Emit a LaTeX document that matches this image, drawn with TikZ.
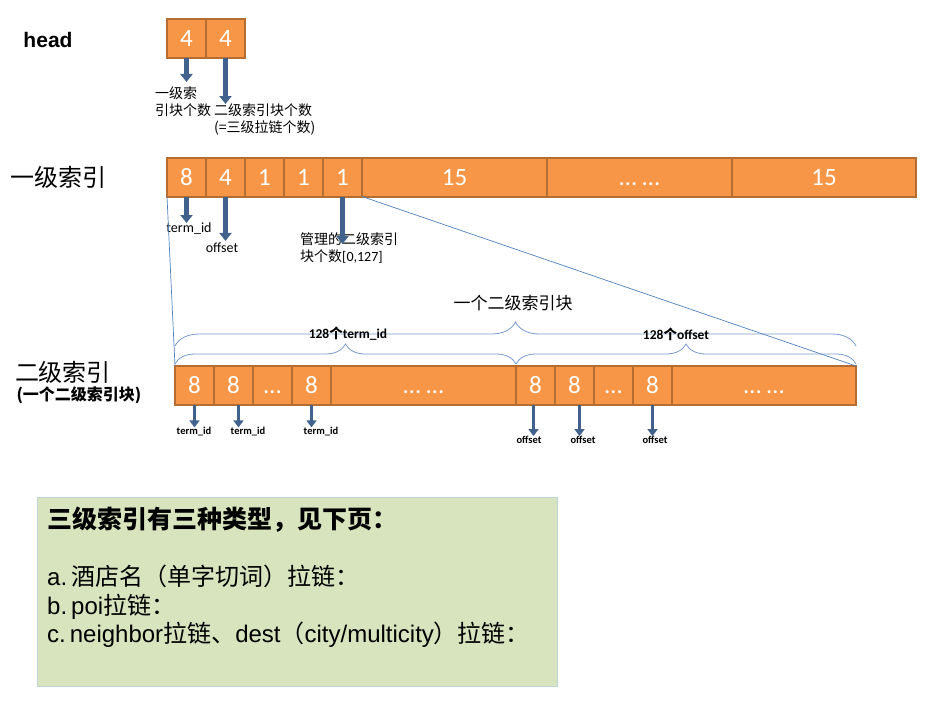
\documentclass[tikz,border=0pt]{standalone}
\usepackage{fontspec}
\setmainfont{Carlito}
\newfontfamily\cjk{Noto Sans CJK SC}
\newfontfamily\arial{Liberation Sans}
\usepackage{tikz}
\usetikzlibrary{arrows.meta, positioning, decorations.pathreplacing}

\definecolor{cellfill}{RGB}{247,150,70}
\definecolor{cellborder}{RGB}{182,109,49}
\definecolor{arrowblue}{RGB}{65,98,140}
\definecolor{projblue}{RGB}{79,129,189}
\definecolor{braceblue}{RGB}{120,155,205}
\definecolor{boxfill}{RGB}{215,228,189}
\definecolor{boxborder}{RGB}{190,210,215}

\begin{document}
\begin{tikzpicture}[x=1pt, y=-1pt, node distance=0pt,
    cell/.style={draw=cellborder, fill=cellfill, line width=2pt, text=white, font=\fontsize{25}{25}\selectfont, text height=16pt, text depth=0pt, minimum width=39pt, minimum height=39pt, inner sep=0pt, outer sep=0pt},
    widecell/.style={cell, minimum width=#1},
    blockarrow/.style={draw=arrowblue, line width=4.5pt, -{Triangle[width=12pt, length=8pt]}},
    smallarrow/.style={draw=arrowblue, line width=3.5pt, -{Triangle[width=10pt, length=7pt]}},
    note/.style={font=\cjk\fontsize{14}{17}\selectfont, inner sep=0pt, align=left},
    tag/.style={font=\fontsize{14}{14}\selectfont, inner sep=0pt},
    smalltag/.style={font=\bfseries\fontsize{10.5}{10.5}\selectfont, inner sep=0pt},
    bracket/.style={draw=braceblue, line width=0.8pt, decorate, decoration={brace, amplitude=#1}},
    proj/.style={draw=projblue, line width=0.7pt}
]
    \useasboundingbox (0,0) rectangle (937,701);

    % titles on the left
    \node[font=\arial\bfseries\fontsize{21}{21}\selectfont] (headlbl) at (48,40) {head};
    \node[font=\cjk\fontsize{24}{24}\selectfont] (lvl1) at (58,177) {一级索引};
    \node[font=\cjk\fontsize{24}{24}\selectfont] (lvl2) at (63,372) {二级索引};
    \node[font=\cjk\bfseries\fontsize{16}{16}\selectfont] (lvl2sub) at (79,395) {(一个二级索引块)};

    % head
    \node[cell, anchor=west] (h1) at (167,39) {4};
    \node[cell, right=of h1] (h2) {4};
    \node[note, anchor=north west] (hn1) at (155,87) {一级索\\引块个数};
    \node[note, anchor=north west] (hn2) at (214,104) {二级索引块个数\\(=三级拉链个数)};
    \draw[blockarrow, shorten >=5pt] (h1.south) -- (h1.south |- hn1.north);
    \draw[blockarrow] (h2.south) -- (h2.south |- hn2.north);

    % first level index
    \node[cell, anchor=west] (f1) at (167,177) {8};
    \node[cell, right=of f1] (f2) {4};
    \node[cell, right=of f2] (f3) {1};
    \node[cell, right=of f3] (f4) {1};
    \node[cell, right=of f4] (f5) {1};
    \node[widecell=185pt, right=of f5] (f6) {15};
    \node[widecell=185pt, right=of f6] (f7) {… …};
    \node[widecell=184pt, right=of f7] (f8) {15};
    \node[tag] (ft1) at (189,229) {term\_id};
    \node[tag] (ft2) at (222,248) {offset};
    \node[note, anchor=north west] (fn3) at (300,232) {管理的二级索引\\块个数{\rmfamily[0,127]}};
    \draw[blockarrow] (f1.south) -- (f1.south |- ft1.north);
    \draw[blockarrow, shorten >=2pt] (f2.south) -- (f2.south |- ft2.north);
    \draw[blockarrow, shorten >=-12pt] (f5.south) -- (f5.south |- fn3.north);

    % second level index block
    \node[cell, anchor=west] (s1) at (175,385.5) {8};
    \node[cell, right=of s1] (s2) {8};
    \node[cell, right=of s2] (s3) {…};
    \node[cell, right=of s3] (s4) {8};
    \node[widecell=185pt, right=of s4] (s5) {… …};
    \node[cell, right=of s5] (s6) {8};
    \node[cell, right=of s6] (s7) {8};
    \node[cell, right=of s7] (s8) {…};
    \node[cell, right=of s8] (s9) {8};
    \node[widecell=184pt, right=of s9] (s10) {… …};

    \draw[proj] (f1.south west) -- (s1.north west);
    \draw[proj] (f5.south east) -- (s10.north east);

    % braces
    \draw[bracket=24pt] ([yshift=20pt]s1.north west) -- ([yshift=20pt]s10.north east);
    \draw[bracket=20pt] ([yshift=2pt]s1.north west) -- ([yshift=2pt]s5.north east);
    \draw[bracket=20pt] ([yshift=2pt]s6.north west) -- ([yshift=2pt]s10.north east);
    \node[font=\cjk\fontsize{17}{17}\selectfont] (blk) at (513,303) {一个二级索引块};
    \node[font=\bfseries\fontsize{13.5}{13.5}\selectfont] (cnt1) at (348,334) {128{\cjk 个}term\_id};
    \node[font=\bfseries\fontsize{13.5}{13.5}\selectfont] (cnt2) at (676,334) {128{\cjk 个}offset};

    \node[smalltag] (st1) at (194,432) {term\_id};
    \node[smalltag] (st2) at (248,432) {term\_id};
    \node[smalltag] (st3) at (321,432) {term\_id};
    \node[smalltag] (so1) at (529,440) {offset};
    \node[smalltag] (so2) at (583,440) {offset};
    \node[smalltag] (so3) at (655,440) {offset};
    \draw[smallarrow] (s1.south) -- (s1.south |- st1.north);
    \draw[smallarrow] ([xshift=5pt]s2.south) -- ([xshift=5pt]s2.south |- st2.north);
    \draw[smallarrow] (s4.south) -- (s4.south |- st3.north);
    \draw[smallarrow] ([xshift=-2pt]s6.south) -- ([xshift=-2pt]s6.south |- so1.north);
    \draw[smallarrow] ([xshift=5pt]s7.south) -- ([xshift=5pt]s7.south |- so2.north);
    \draw[smallarrow] (s9.south) -- (s9.south |- so3.north);

    % third level note
    \node[draw=boxborder, fill=boxfill, line width=1pt, minimum width=520pt, minimum height=189pt, inner sep=0pt, anchor=north west] (box) at (37,497) {};
    \node[anchor=north west, align=left, inner sep=0pt, font=\arial\fontsize{24}{28.5}\selectfont] (boxtxt) at (47,507)
        {{\cjk\bfseries\fontsize{25}{28.5}\selectfont 三级索引有三种类型，见下页：}\\[28.5pt]
         a.\,{\cjk 酒店名（单字切词）拉链：}\\
         b.\,poi{\cjk 拉链：}\\
         c.\,neighbor{\cjk 拉链、}dest{\cjk （}city/multicity{\cjk ）拉链：}};
\end{tikzpicture}
\end{document}
